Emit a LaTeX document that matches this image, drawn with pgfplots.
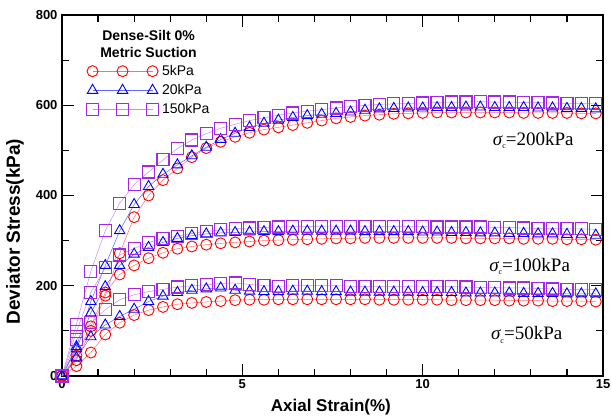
\documentclass[border=0pt]{standalone}
\usepackage{pgfplots}
\usepackage{pgfplotstable}
\pgfplotsset{compat=1.18}
\usepackage{fontspec}
\setmainfont{Liberation Sans}
\newfontfamily\tnr{Liberation Serif}
\definecolor{pur}{RGB}{160,40,230}
\definecolor{redl}{RGB}{255,110,110}
\definecolor{bluel}{RGB}{100,100,255}
\definecolor{purl}{RGB}{200,140,240}

\pgfplotstableread{
x    c t s
0.0  0 0 0
0.4  22 40 80
0.8  52 87 118
1.2  92 113 147
1.6  118 132 169
2.0  135 148 180
2.4  146 165 187
2.8  153 177 192
3.2  159 185 197
3.6  162 190 200
4.0  164 193 202
4.4  166 195 205
4.8  168 190 206
5.2  169 188 203
5.6  169 187 200
6.0  170 187 199
6.4  170 188 200
6.8  170 188 200
7.2  170 187 201
7.6  170 187 200
8.0  170 186 199
8.4  170 186 198
8.8  169 186 198
9.2  169 186 198
9.6  169 186 199
10.0 169 185 199
10.4 169 185 198
10.8 168 185 198
11.2 168 184 197
11.6 168 184 196
12.0 168 184 196
12.4 167 184 195
12.8 167 183 195
13.2 167 183 194
13.6 166 183 193
14.0 166 182 192
14.4 166 182 192
14.8 165 182 191
}\tfifty

\pgfplotstableread{
x    c t s
0.0  0 0 0
0.4  45 60 98
0.8  110 140 185
1.2  185 198 240
1.6  225 245 268
2.0  245 270 283
2.4  261 285 296
2.8  273 296 304
3.2  282 305 310
3.6  287 311 316
4.0  291 315 320
4.4  294 317 324
4.8  296 318 326
5.2  298 319 328
5.6  300 320 329
6.0  301 320 330
6.4  302 321 331
6.8  303 321 331
7.2  304 321 332
7.6  305 321 332
8.0  305 321 332
8.4  306 320 332
8.8  306 320 332
9.2  306 320 331
9.6  306 320 331
10.0 306 319 331
10.4 306 319 330
10.8 306 318 330
11.2 305 318 330
11.6 305 317 330
12.0 305 317 329
12.4 305 316 329
12.8 304 316 328
13.2 304 315 327
13.6 304 315 327
14.0 303 314 326
14.4 303 313 326
14.8 302 312 325
}\thundred

\pgfplotstableread{
x    c t s
0.0  0 0 0
0.4  35 65 115
0.8  100 165 232
1.2  178 245 322
1.6  272 322 383
2.0  352 380 424
2.4  400 420 452
2.8  434 447 479
3.2  460 468 504
3.6  485 488 523
4.0  505 507 537
4.4  519 524 549
4.8  530 538 558
5.2  539 551 566
5.6  546 560 572
6.0  551 567 578
6.4  556 573 583
6.8  561 577 587
7.2  566 580 590
7.6  571 582 594
8.0  574 585 597
8.4  577 589 600
8.8  579 592 602
9.2  581 593 603
9.6  582 594 604
10.0 583 594 605
10.4 584 595 606
10.8 584 595 607
11.2 584 596 607
11.6 584 596 608
12.0 584 595 607
12.4 584 595 607
12.8 583 595 606
13.2 583 594 606
13.6 583 594 605
14.0 583 593 604
14.4 582 593 604
14.8 582 592 603
}\ttwohundred

\begin{document}
\begin{tikzpicture}
\begin{axis}[
  name=ax,
  scale only axis,
  width=541pt, height=361pt,
  xmin=0, xmax=15, ymin=0, ymax=800,
  xtick={0,5,10,15}, ytick={0,200,400,600,800},
  minor x tick num=4, minor y tick num=1,
  major tick length=12pt, minor tick length=7pt,
  tick align=inside,
  every tick/.style={black, line width=1.2pt},
  axis line style={line width=1.5pt},
  clip=false,
  /pgf/number format/assume math mode=true,
  ticklabel style={font=\bfseries\fontsize{13}{13}\selectfont},
  yticklabel style={xshift=-1pt},
  xlabel={Axial Strain(\%)},
  ylabel={Deviator Stress(kPa)},
  label style={font=\bfseries\fontsize{17}{17}\selectfont},
  xlabel style={at={(axis description cs:0.497,-0.086)}, anchor=center},
  ylabel style={at={(axis description cs:-0.087,0.40)}, anchor=center, font=\bfseries\fontsize{19}{19}\selectfont},
  legend cell align=left,
  legend style={draw=none, fill=none, inner sep=0pt, row sep=2.5pt, column sep=1pt,
    font=\fontsize{14}{14}\selectfont,
    at={(0.045,0.868)}, anchor=north west,
    nodes={inner sep=2.5pt}},
  legend image code/.code={\draw plot coordinates {(0pt,0pt) (30pt,0pt) (60pt,0pt)};},
  cir/.style={draw=redl, line width=0.5pt, mark=o, mark size=5.5pt, mark options={draw=red, line width=0.9pt}},
  tri/.style={draw=bluel, line width=0.5pt, mark=triangle, mark size=6pt, mark options={draw=blue, line width=0.9pt}},
  sqr/.style={draw=purl, line width=0.5pt, mark=square, mark size=6pt, mark options={draw=pur, line width=1.2pt}},
]
% 200 kPa (with legend)
\addplot[cir] table[x=x,y=c] {\ttwohundred};
\addlegendentry{5kPa}
\addplot[tri] table[x=x,y=t] {\ttwohundred};
\addlegendentry{20kPa}
\addplot[sqr] table[x=x,y=s] {\ttwohundred};
\addlegendentry{150kPa}
% 100 kPa
\addplot[forget plot, cir] table[x=x,y=c] {\thundred};
\addplot[forget plot, tri] table[x=x,y=t] {\thundred};
\addplot[forget plot, sqr] table[x=x,y=s] {\thundred};
% 50 kPa
\addplot[forget plot, cir] table[x=x,y=c] {\tfifty};
\addplot[forget plot, tri] table[x=x,y=t] {\tfifty};
\addplot[forget plot, sqr] table[x=x,y=s] {\tfifty};

\node[align=center, font=\bfseries\fontsize{14}{17}\selectfont] at (axis description cs:0.160,0.921) {Dense-Silt 0\%\\Metric Suction};
\node[anchor=west, font=\tnr\fontsize{19}{19}\selectfont] at (axis cs:11.85,521) {{\itshape σ}\raisebox{-0.35ex}{\fontsize{8}{8}\selectfont c}=200kPa};
\node[anchor=west, font=\tnr\fontsize{19}{19}\selectfont] at (axis cs:11.75,242) {{\itshape σ}\raisebox{-0.35ex}{\fontsize{8}{8}\selectfont c}=100kPa};
\node[anchor=west, font=\tnr\fontsize{19}{19}\selectfont] at (axis cs:11.8,91) {{\itshape σ}\raisebox{-0.35ex}{\fontsize{8}{8}\selectfont c}=50kPa};
\end{axis}
\pgfresetboundingbox
\path[use as bounding box] ([shift={(-62pt,-43pt)}]ax.south west) rectangle ([shift={(8pt,15pt)}]ax.north east);
\end{tikzpicture}
\end{document}
